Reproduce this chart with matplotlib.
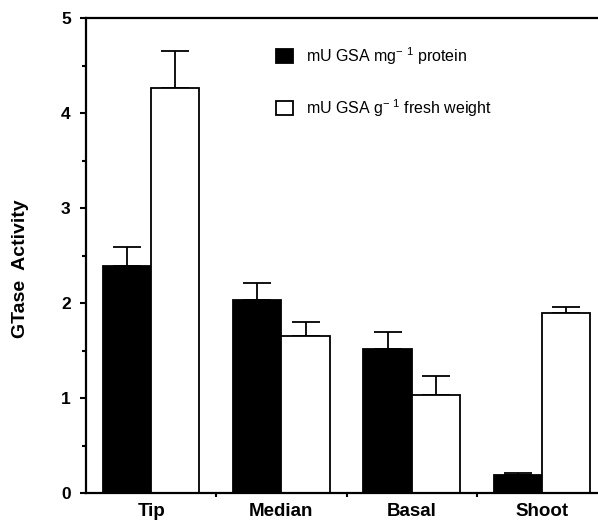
import numpy as np
import matplotlib
matplotlib.use("Agg")
import matplotlib.pyplot as plt
from matplotlib.patches import Patch

# ── Data ─────────────────────────────────────────────────────────────────────
categories = ["Tip", "Median", "Basal", "Shoot"]
protein = [2.39, 2.03, 1.52, 0.19]          # mU GSA mg-1 protein
protein_err = [0.20, 0.18, 0.18, 0.02]
fresh = [4.26, 1.65, 1.03, 1.89]            # mU GSA g-1 fresh weight
fresh_err = [0.39, 0.15, 0.20, 0.07]
legend_labels = [r"mU GSA mg$^{-\ 1}$ protein", r"mU GSA g$^{-\ 1}$ fresh weight"]
y_ticks = [0, 1, 2, 3, 4, 5]

plt.rcParams["font.family"] = ["Liberation Sans", "DejaVu Sans"]
plt.rcParams["mathtext.default"] = "regular"

W, H = 598, 521
fig = plt.figure(figsize=(W / 100, H / 100), dpi=100)
ax = fig.add_axes([86 / W, (H - 493) / H, (W - 86) / W, (493 - 18) / H])

x = np.arange(len(categories))
bw = 0.37
ax.bar(x - bw / 2, protein, bw, color="black", edgecolor="black", linewidth=1.3, zorder=2)
ax.bar(x + bw / 2, fresh, bw, color="white", edgecolor="black", linewidth=1.3, zorder=2)
ax.errorbar(x - bw / 2, protein, yerr=[np.zeros(4), protein_err], fmt="none",
            ecolor="black", elinewidth=1.3, capsize=10, capthick=1.3, zorder=1)
ax.errorbar(x + bw / 2, fresh, yerr=[np.zeros(4), fresh_err], fmt="none",
            ecolor="black", elinewidth=1.3, capsize=10, capthick=1.3, zorder=1)

ax.set_xlim(-0.5, 3.43)
ax.set_ylim(0, 5)

# spines: left, bottom and top; no right
ax.spines["right"].set_visible(False)
for s in ["left", "bottom", "top"]:
    ax.spines[s].set_linewidth(1.6)

ax.set_yticks(y_ticks)
ax.set_yticklabels([str(t) for t in y_ticks], fontsize=12.5, fontweight="bold")
ax.set_yticks(np.arange(0.5, 5, 1.0), minor=True)
ax.tick_params(axis="y", which="major", direction="out", length=4, width=1.5, pad=7)
ax.tick_params(axis="y", which="minor", direction="out", length=3, width=1.5)

ax.set_xticks(x)
ax.set_xticklabels(categories, fontsize=13.5, fontweight="bold")
ax.set_xticks([0.5, 1.5, 2.5], minor=True)
ax.tick_params(axis="x", which="major", length=0, pad=7)
ax.tick_params(axis="x", which="minor", direction="out", length=3, width=1.5)

fig.text(21 / W, 1 - 269 / H, "GTase  Activity", rotation=90, fontsize=14,
         fontweight="bold", ha="center", va="center")

handles = [Patch(facecolor="black", edgecolor="black", linewidth=1.3),
           Patch(facecolor="white", edgecolor="black", linewidth=1.3)]
ax.legend(handles, legend_labels, loc="upper left",
          bbox_to_anchor=(276 / W, 1 - 45 / H), bbox_transform=fig.transFigure,
          frameon=False, fontsize=11.5, borderpad=0, borderaxespad=0,
          handlelength=1.05, handleheight=1.0, handletextpad=0.85, labelspacing=1.9)

fig.savefig("out.png", dpi=100)
